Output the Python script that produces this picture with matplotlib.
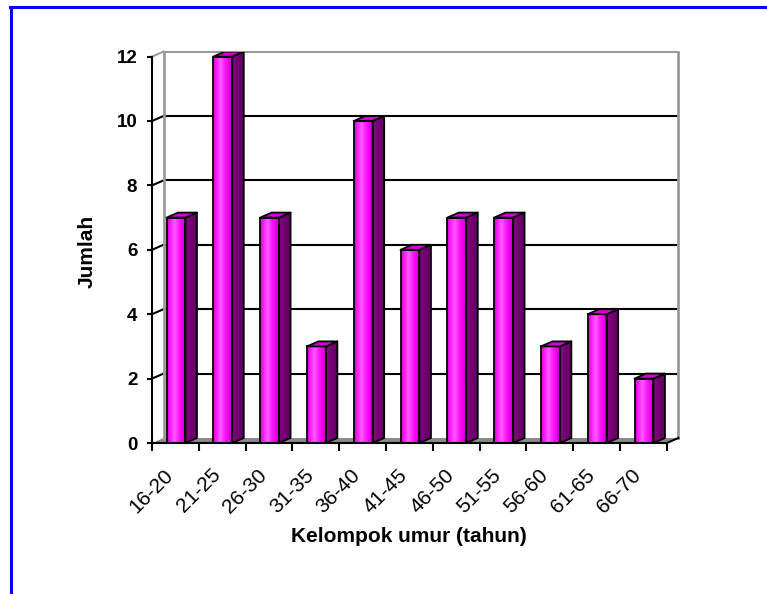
import matplotlib
matplotlib.use("Agg")
import matplotlib.pyplot as plt
import matplotlib.transforms as mtransforms
from matplotlib.colors import LinearSegmentedColormap
from matplotlib.lines import Line2D
from matplotlib.patches import Polygon, Rectangle
import numpy as np

# ── Data ─────────────────────────────────────────────────────
age_groups = ["16-20", "21-25", "26-30", "31-35", "36-40", "41-45",
              "46-50", "51-55", "56-60", "61-65", "66-70"]
counts = [7, 12, 7, 3, 10, 6, 7, 7, 3, 4, 2]
y_ticks = [0, 2, 4, 6, 8, 10, 12]

plt.rcParams["font.family"] = ["Liberation Sans", "DejaVu Sans"]

W, H = 767, 594
fig = plt.figure(figsize=(W / 100, H / 100), dpi=100, facecolor="white")

# pixel scale of the fake 3D box
ux, uy = 46.8, 32.2            # px per category / per unit
dx, dy = 11.5 / ux, 5.0 / uy   # depth offset in data units
n = len(counts)
ymax = y_ticks[-1]

ax = fig.add_axes([152 / W, 151 / H, (n + dx) * ux / W, (ymax + dy) * uy / H])
ax.set_facecolor("white")

# ── Walls & floor ────────────────────────────────────────────
wall_grey = "#9a9a9a"
ax.add_patch(Polygon([(0, 0), (n, 0), (n + dx, dy), (dx, dy)], closed=True,
                     facecolor="#8a8a8a", edgecolor="none", zorder=1))
for v in y_ticks[1:]:
    c = "black" if v < ymax else wall_grey
    ax.plot([dx, n + dx], [v + dy, v + dy], color=c, lw=1.5, zorder=1.5,
            clip_on=False, solid_capstyle="butt")
    ax.plot([0, dx], [v, v + dy], color=c, lw=1.5, zorder=1.5, clip_on=False)
ax.plot([dx, dx], [dy, ymax + dy], color=wall_grey, lw=2, zorder=1.6, clip_on=False)
ax.plot([n + dx, n + dx], [dy, ymax + dy], color=wall_grey, lw=2, zorder=1.6,
        clip_on=False)
ax.plot([n, n + dx], [0, dy], color="black", lw=1.5, zorder=2, clip_on=False)

# ── Bars ─────────────────────────────────────────────────────
front_cmap = LinearSegmentedColormap.from_list(
    "front", ["#d800d8", "#ff20ff", "#ff5cff", "#ff20ff", "#f000f0", "#c400c4"])
side_cmap = LinearSegmentedColormap.from_list("side", ["#860086", "#5e005e"])
grad = np.linspace(0, 1, 64).reshape(1, -1)

off, bw = 0.31, 0.405
for i, v in enumerate(counts):
    x0 = i + off
    x1 = x0 + bw
    # front face with horizontal shading
    rect = Rectangle((x0, 0), bw, v, facecolor="none", edgecolor="black",
                     lw=1.3, zorder=4)
    ax.add_patch(rect)
    im = ax.imshow(grad, cmap=front_cmap, extent=(x0, x1, 0, v),
                   aspect="auto", zorder=3, interpolation="bilinear")
    im.set_clip_path(rect)
    # side face
    side = Polygon([(x1, 0), (x1 + dx, dy), (x1 + dx, v + dy), (x1, v)],
                   closed=True, facecolor="none", edgecolor="black", lw=1.3,
                   zorder=4, joinstyle="round")
    ax.add_patch(side)
    im2 = ax.imshow(grad, cmap=side_cmap, extent=(x1, x1 + dx, 0, v + dy),
                    aspect="auto", zorder=3, interpolation="bilinear")
    im2.set_clip_path(side)
    # top face
    ax.add_patch(Polygon([(x0, v), (x1, v), (x1 + dx, v + dy), (x0 + dx, v + dy)],
                         closed=True, facecolor="#d400d4", edgecolor="black",
                         lw=1.3, zorder=4, joinstyle="round"))

# ── Axes ─────────────────────────────────────────────────────
ax.set_xlim(0, n + dx)
ax.set_ylim(0, ymax + dy)
for s in ["top", "right"]:
    ax.spines[s].set_visible(False)
for s in ["left", "bottom"]:
    ax.spines[s].set_linewidth(1.5)
    ax.spines[s].set_zorder(5)
ax.spines["left"].set_bounds(0, ymax)
ax.spines["bottom"].set_bounds(0, n)

ax.set_yticks(y_ticks)
ax.set_yticklabels([str(t) for t in y_ticks], fontweight="bold")
ax.tick_params(axis="y", direction="out", length=3.6, width=1.5, pad=7,
               labelsize=13.5)
ax.set_xticks(range(n + 1))
ax.set_xticklabels([])
ax.tick_params(axis="x", direction="out", length=5.8, width=1.5)

shift = mtransforms.ScaledTranslation(-5 / 100, -29 / 100, fig.dpi_scale_trans)
for i, lab in enumerate(age_groups):
    ax.text(i + 0.5, 0, lab, transform=ax.get_xaxis_transform() + shift,
            rotation=45, rotation_mode="anchor", ha="right", va="center",
            fontsize=15)

fig.text(87.5 / W, 1 - 251 / H, "Jumlah", rotation=90, ha="center",
         va="center", fontsize=15, fontweight="bold")
fig.text(409 / W, 1 - 536 / H, "Kelompok umur (tahun)", ha="center",
         va="center", fontsize=15, fontweight="bold")

# blue frame (top and left edges only visible)
fig.add_artist(Line2D([9.5 / W, 1], [1 - 6.5 / H] * 2, color="#0000ff", lw=2.2))
fig.add_artist(Line2D([10.5 / W] * 2, [1 - 6.5 / H, 0], color="#0000ff", lw=2.2))

fig.savefig("out.png", dpi=100, facecolor="white")
